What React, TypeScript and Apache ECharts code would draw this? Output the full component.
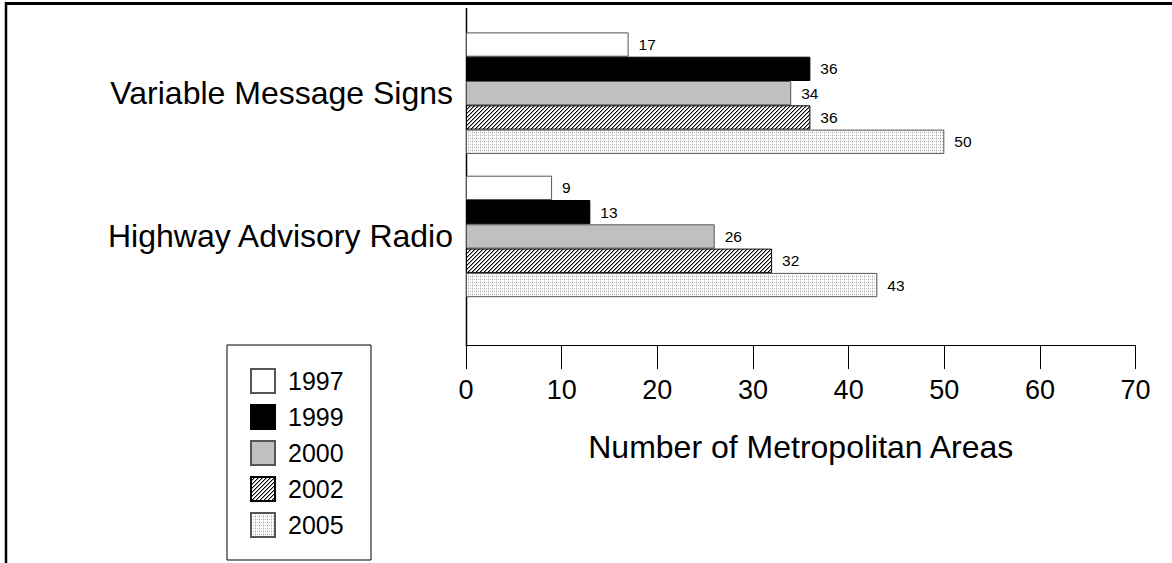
import React, { useEffect, useRef } from "react";
import * as echarts from "echarts";

const categories = ["Variable Message Signs", "Highway Advisory Radio"];
const years = ["1997", "1999", "2000", "2002", "2005"];
const values1997 = [17, 9];
const values1999 = [36, 13];
const values2000 = [34, 26];
const values2002 = [36, 32];
const values2005 = [50, 43];
const xTicks = [0, 70, 10]; // min, max, interval

const FONT = 'Arial, "Liberation Sans", sans-serif';

function makeHatch() {
  const c = document.createElement("canvas");
  c.width = 4;
  c.height = 4;
  const ctx = c.getContext("2d")!;
  ctx.fillStyle = "#ffffff";
  ctx.fillRect(0, 0, 4, 4);
  for (let y = 0; y < 4; y++) {
    ctx.fillStyle = "#000000";
    ctx.fillRect(3 - y, y, 1, 1);
    ctx.fillStyle = "#9a9a9a";
    ctx.fillRect((4 - y) % 4, y, 1, 1);
  }
  return c;
}

function makeDots() {
  const c = document.createElement("canvas");
  c.width = 4;
  c.height = 3;
  const ctx = c.getContext("2d")!;
  ctx.fillStyle = "#ffffff";
  ctx.fillRect(0, 0, 4, 3);
  ctx.fillStyle = "#b4b4b4";
  ctx.fillRect(0, 0, 1, 1);
  ctx.fillRect(2, 0, 1, 1);
  ctx.fillStyle = "#dcdcdc";
  ctx.fillRect(0, 1, 1, 1);
  ctx.fillRect(0, 2, 1, 1);
  return c;
}

export default function App() {
  const ref = useRef<HTMLDivElement>(null);
  useEffect(() => {
    document.body.style.margin = "0";
    const chart = echarts.init(ref.current!, null, { renderer: "svg" });
    const hatch = { image: makeHatch(), repeat: "repeat", imageWidth: 4, imageHeight: 4 } as any;
    const dots = { image: makeDots(), repeat: "repeat", imageWidth: 4, imageHeight: 3 } as any;
    const styles = [
      { color: "#ffffff", borderColor: "#555555", borderWidth: 1 },
      { color: "#000000", borderColor: "#000000", borderWidth: 1 },
      { color: "#c0c0c0", borderColor: "#555555", borderWidth: 1 },
      { color: hatch, borderColor: "#000000", borderWidth: 1 },
      { color: dots, borderColor: "#555555", borderWidth: 1 },
    ];
    const data = [values1997, values1999, values2000, values2002, values2005];
    const series = years.map((y, i) => ({
      name: y,
      type: "bar",
      data: data[i],
      barWidth: 24.3,
      barGap: "0%",
      itemStyle: styles[i],
      label: {
        show: true,
        position: "right",
        distance: 10,
        color: "#000",
        fontSize: 15.5,
        fontFamily: FONT,
      },
    }));
    chart.setOption({
      animation: false,
      backgroundColor: "#ffffff",
      textStyle: { fontFamily: FONT },
      grid: { left: 466, right: 36.4, top: 21.5, height: 286.6 },
      xAxis: {
        type: "value",
        min: xTicks[0],
        max: xTicks[1],
        interval: xTicks[2],
        offset: 37,
        axisLine: { show: true, lineStyle: { color: "#000", width: 1 } },
        axisTick: { show: true, length: 24, lineStyle: { color: "#000", width: 1 } },
        axisLabel: { color: "#000", fontSize: 27, margin: 31, fontFamily: FONT },
        splitLine: { show: false },
        name: "Number of Metropolitan Areas",
        nameLocation: "middle",
        nameGap: 102,
        nameTextStyle: { color: "#000", fontSize: 32, fontFamily: FONT, verticalAlign: "middle" },
      },
      yAxis: {
        type: "category",
        data: categories,
        inverse: true,
        axisLine: { show: false },
        axisTick: { show: false },
        axisLabel: { color: "#000", fontSize: 32, margin: 13, fontFamily: FONT },
        splitLine: { show: false },
      },
      legend: {
        orient: "vertical",
        left: 250,
        top: 368,
        icon: "rect",
        itemWidth: 24,
        itemHeight: 24,
        itemGap: 10,
        padding: 0,
        data: years,
        textStyle: { color: "#000", fontSize: 25, fontFamily: FONT, padding: [0, 0, 0, 8] },
      },
      graphic: [
        { type: "line", shape: { x1: 5, y1: 3.5, x2: 1172, y2: 3.5 }, style: { stroke: "#000", lineWidth: 3 } },
        { type: "line", shape: { x1: 6, y1: 2, x2: 6, y2: 563 }, style: { stroke: "#000", lineWidth: 2.5 } },
        { type: "line", shape: { x1: 466.5, y1: 8, x2: 466.5, y2: 345 }, style: { stroke: "#000", lineWidth: 1.5 } },
        { type: "rect", shape: { x: 227, y: 345, width: 144, height: 215 }, style: { fill: "none", stroke: "#000", lineWidth: 1 } },
      ],
      series,
    });
    return () => chart.dispose();
  }, []);
  return <div ref={ref} style={{ width: 1172, height: 563 }} />;
}
